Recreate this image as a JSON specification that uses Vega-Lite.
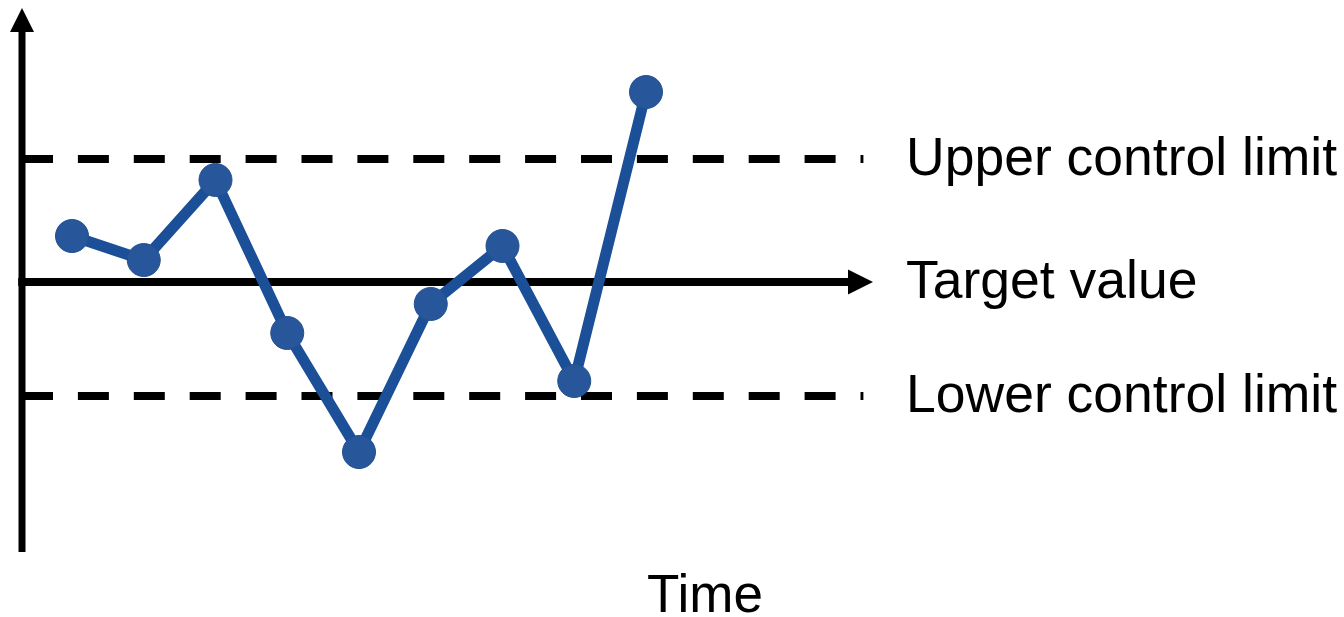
{
  "$schema": "https://vega.github.io/schema/vega-lite/v6.json",
  "width": 1344,
  "height": 617,
  "padding": 0,
  "autosize": {"type": "none"},
  "background": "white",
  "config": {"view": {"stroke": null}},
  "datasets": {
    "series": [
      {"t": 1, "v": 3.83},
      {"t": 2, "v": 1.83},
      {"t": 3, "v": 8.5},
      {"t": 4, "v": -4.25},
      {"t": 5, "v": -14.17},
      {"t": 6, "v": -1.83},
      {"t": 7, "v": 3.0},
      {"t": 8, "v": -8.25},
      {"t": 9, "v": 15.83}
    ],
    "limits": [
      {"name": "Upper control limit", "v": 10.25, "kind": "limit"},
      {"name": "Target value", "v": 0, "kind": "target"},
      {"name": "Lower control limit", "v": -9.5, "kind": "limit"}
    ],
    "xlabel": [{"name": "Time"}]
  },
  "layer": [
    {
      "data": {"name": "limits"},
      "transform": [{"filter": "datum.kind === 'limit'"}],
      "mark": {"type": "rule", "color": "black", "strokeWidth": 8, "strokeDash": [31, 24.9]},
      "encoding": {
        "x": {"datum": 0.3031, "type": "quantitative", "scale": {"domain": [-0.00348, 18.7282], "nice": false, "zero": false}, "axis": null},
        "x2": {"datum": 12.03},
        "y": {"field": "v", "type": "quantitative", "scale": {"domain": [-27.9167, 23.5], "nice": false, "zero": false}, "axis": null}
      }
    },
    {
      "data": {"name": "limits"},
      "transform": [{"filter": "datum.kind === 'target'"}],
      "mark": {"type": "rule", "color": "black", "strokeWidth": 8},
      "encoding": {
        "x": {"datum": 0.25, "type": "quantitative", "scale": {"domain": [-0.00348, 18.7282], "nice": false, "zero": false}, "axis": null},
        "x2": {"datum": 11.843},
        "y": {"field": "v", "type": "quantitative", "scale": {"domain": [-27.9167, 23.5], "nice": false, "zero": false}, "axis": null}
      }
    },
    {
      "data": {"name": "limits"},
      "transform": [{"filter": "datum.kind === 'target'"}],
      "mark": {"type": "point", "shape": "M1,0L-1,-1L-1,1Z", "filled": true, "color": "black", "opacity": 1, "size": 625, "strokeWidth": 0},
      "encoding": {
        "x": {"datum": 11.9895, "type": "quantitative", "scale": {"domain": [-0.00348, 18.7282], "nice": false, "zero": false}, "axis": null},
        "y": {"field": "v", "type": "quantitative", "scale": {"domain": [-27.9167, 23.5], "nice": false, "zero": false}, "axis": null}
      }
    },
    {
      "data": {"name": "xlabel"},
      "mark": {"type": "rule", "color": "black", "strokeWidth": 7},
      "encoding": {
        "x": {"datum": 0.3031, "type": "quantitative", "scale": {"domain": [-0.00348, 18.7282], "nice": false, "zero": false}, "axis": null},
        "y": {"datum": -22.5, "type": "quantitative", "scale": {"domain": [-27.9167, 23.5], "nice": false, "zero": false}, "axis": null},
        "y2": {"datum": 21.4167}
      }
    },
    {
      "data": {"name": "xlabel"},
      "mark": {"type": "point", "shape": "M0,-1L1,1L-1,1Z", "filled": true, "color": "black", "opacity": 1, "size": 576, "strokeWidth": 0},
      "encoding": {
        "x": {"datum": 0.3031, "type": "quantitative", "scale": {"domain": [-0.00348, 18.7282], "nice": false, "zero": false}, "axis": null},
        "y": {"datum": 21.833, "type": "quantitative", "scale": {"domain": [-27.9167, 23.5], "nice": false, "zero": false}, "axis": null}
      }
    },
    {
      "data": {"name": "series"},
      "mark": {"type": "line", "color": "#1b4f97", "strokeWidth": 11, "strokeJoin": "round"},
      "encoding": {
        "x": {"field": "t", "type": "quantitative", "scale": {"domain": [-0.00348, 18.7282], "nice": false, "zero": false}, "axis": null},
        "y": {"field": "v", "type": "quantitative", "scale": {"domain": [-27.9167, 23.5], "nice": false, "zero": false}, "axis": null}
      }
    },
    {
      "data": {"name": "series"},
      "mark": {"type": "point", "shape": "circle", "filled": true, "fill": "#27579a", "stroke": "#23518f", "strokeWidth": 1, "opacity": 1, "size": 1089},
      "encoding": {
        "x": {"field": "t", "type": "quantitative", "scale": {"domain": [-0.00348, 18.7282], "nice": false, "zero": false}, "axis": null},
        "y": {"field": "v", "type": "quantitative", "scale": {"domain": [-27.9167, 23.5], "nice": false, "zero": false}, "axis": null}
      }
    },
    {
      "data": {"name": "limits"},
      "mark": {"type": "text", "font": "Liberation Sans", "fontSize": 53.5, "color": "black", "align": "left", "baseline": "alphabetic", "dy": 16},
      "encoding": {
        "x": {"datum": 12.6237, "type": "quantitative", "scale": {"domain": [-0.00348, 18.7282], "nice": false, "zero": false}, "axis": null},
        "y": {"field": "v", "type": "quantitative", "scale": {"domain": [-27.9167, 23.5], "nice": false, "zero": false}, "axis": null},
        "text": {"field": "name"}
      }
    },
    {
      "data": {"name": "xlabel"},
      "mark": {"type": "text", "font": "Liberation Sans", "fontSize": 53, "color": "black", "align": "center", "baseline": "alphabetic"},
      "encoding": {
        "x": {"datum": 9.8223, "type": "quantitative", "scale": {"domain": [-0.00348, 18.7282], "nice": false, "zero": false}, "axis": null},
        "y": {"datum": -27.5, "type": "quantitative", "scale": {"domain": [-27.9167, 23.5], "nice": false, "zero": false}, "axis": null},
        "text": {"field": "name"}
      }
    }
  ]
}
